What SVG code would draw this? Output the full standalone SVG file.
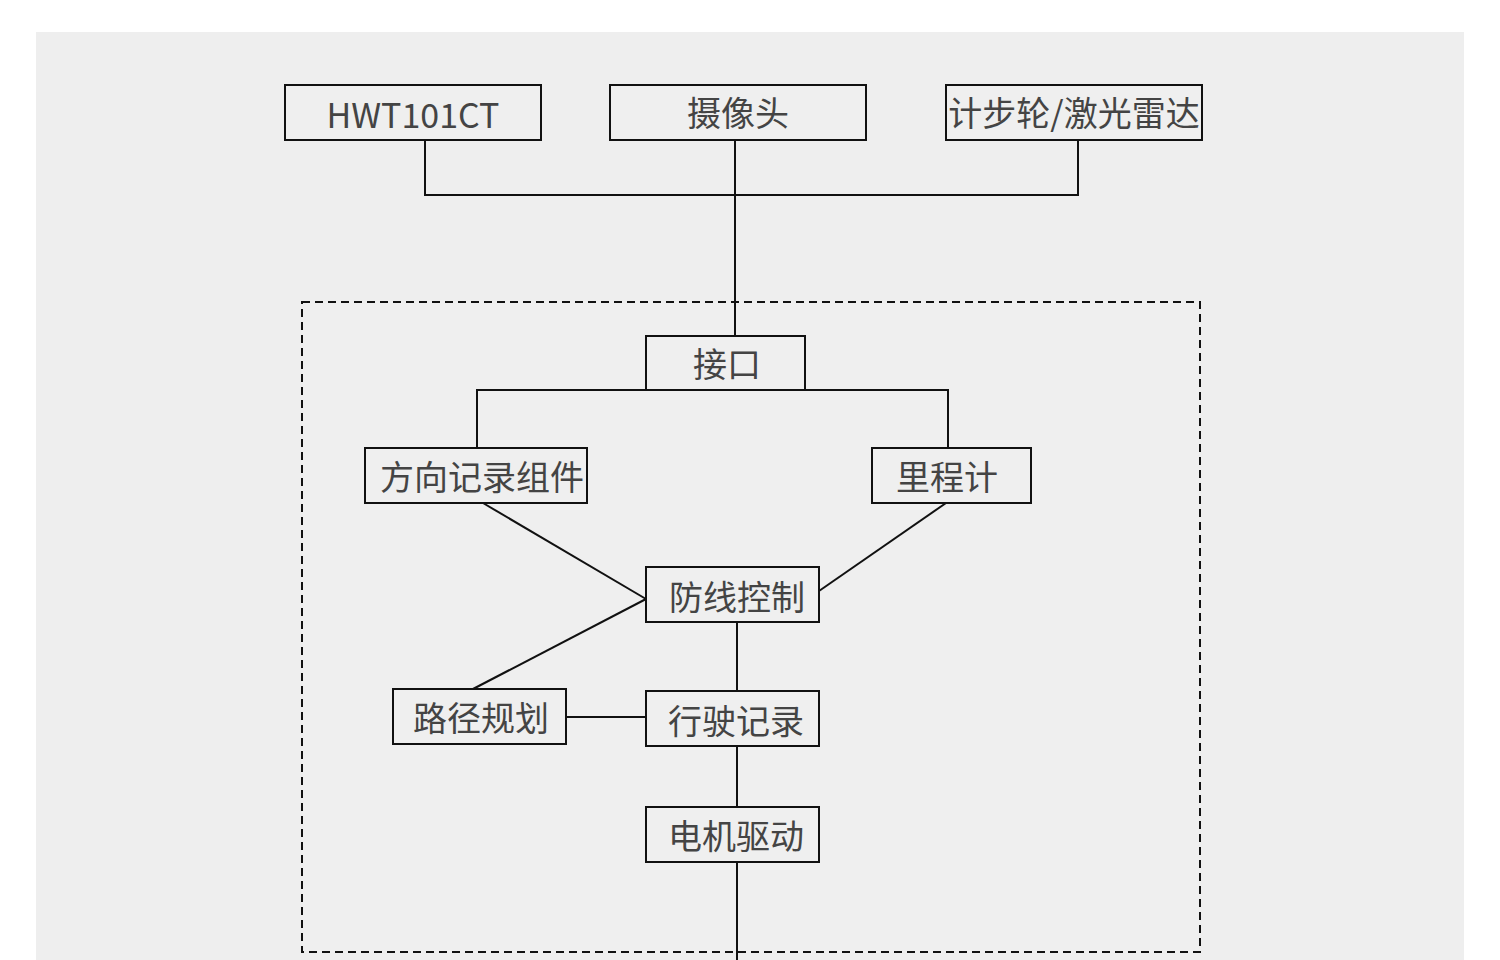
<svg xmlns="http://www.w3.org/2000/svg" width="1500" height="960" viewBox="0 0 1500 960">
<style>
.box{fill:#efefef;stroke:#111;stroke-width:2}
.lbl{font-family:"Noto Sans CJK SC","Noto Sans",sans-serif;font-size:34px;fill:#444;text-anchor:middle}
.ln{fill:none;stroke:#111;stroke-width:2}
</style>
<rect x="0" y="0" width="1500" height="960" fill="#ffffff"/>
<rect x="36" y="32" width="1428" height="928" fill="#eeeeee"/>
<rect id="frame" x="302" y="302" width="898" height="650" fill="#efefef" stroke="#111" stroke-width="2" stroke-dasharray="8,5"/>
<g id="connectors">
<polyline class="ln" points="425,140 425,195 1078,195 1078,140"/>
<line class="ln" x1="735" y1="140" x2="735" y2="336"/>
<polyline class="ln" points="477,448 477,390 948,390 948,448"/>
<line class="ln" x1="483" y1="503" x2="646" y2="599"/>
<line class="ln" x1="946" y1="503" x2="819" y2="591"/>
<line class="ln" x1="646" y1="599" x2="473" y2="689"/>
<line class="ln" x1="566" y1="717" x2="646" y2="717"/>
<line class="ln" x1="737" y1="622" x2="737" y2="691"/>
<line class="ln" x1="737" y1="746" x2="737" y2="807"/>
<line class="ln" x1="737" y1="862" x2="737" y2="960"/>
</g>
<g id="n-hwt"><rect class="box" x="285" y="85" width="256" height="55"/><text class="lbl" x="413" y="128">HWT101CT</text></g>
<g id="n-camera"><rect class="box" x="610" y="85" width="256" height="55"/><text class="lbl" x="738" y="126">摄像头</text></g>
<g id="n-lidar"><rect class="box" x="946" y="85" width="256" height="55"/><text class="lbl" x="1074" y="126">计步轮/激光雷达</text></g>
<g id="n-interface"><rect class="box" x="646" y="336" width="159" height="54"/><text class="lbl" x="727" y="377">接口</text></g>
<g id="n-direction"><rect class="box" x="365" y="448" width="222" height="55"/><text class="lbl" x="482" y="490">方向记录组件</text></g>
<g id="n-odometer"><rect class="box" x="872" y="448" width="159" height="55"/><text class="lbl" x="947" y="490">里程计</text></g>
<g id="n-defense"><rect class="box" x="646" y="567" width="173" height="55"/><text class="lbl" x="737" y="610">防线控制</text></g>
<g id="n-path"><rect class="box" x="393" y="689" width="173" height="55"/><text class="lbl" x="481" y="731">路径规划</text></g>
<g id="n-drive"><rect class="box" x="646" y="691" width="173" height="55"/><text class="lbl" x="736" y="734">行驶记录</text></g>
<g id="n-motor"><rect class="box" x="646" y="807" width="173" height="55"/><text class="lbl" x="736" y="849">电机驱动</text></g>
</svg>
